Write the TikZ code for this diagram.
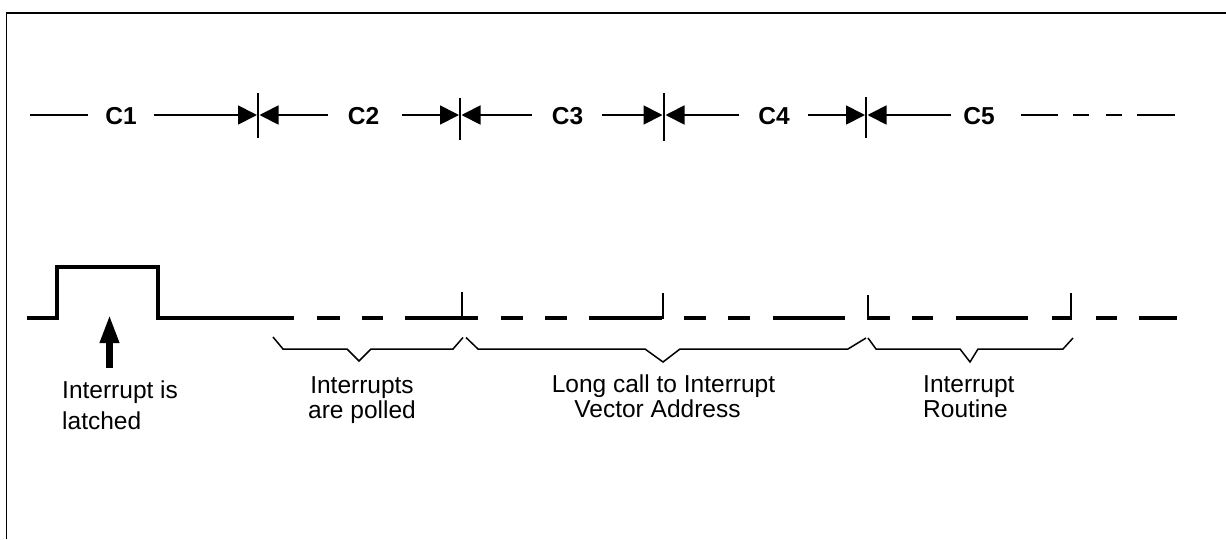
\documentclass[tikz,border=0pt]{standalone}
\usepackage{fontspec}
\setmainfont{Liberation Sans}
\usetikzlibrary{arrows.meta}
\begin{document}
\begin{tikzpicture}[x=1pt,y=-1pt,
  lbl/.style={font=\fontsize{24.5}{25}\selectfont\bfseries, inner sep=0pt, anchor=base},
  txt/.style={font=\fontsize{24.5}{25}\selectfont, inner sep=0pt, anchor=base west},
  txtc/.style={font=\fontsize{24.5}{25}\selectfont, inner sep=0pt, anchor=base},
  dimline/.style={line width=1.8pt},
  dimarr/.style={line width=1.8pt, -{Triangle[length=19pt,width=19pt]}},
  ticks/.style={line width=1.8pt},
  sig/.style={line width=4pt, line join=miter},
  sigtick/.style={line width=2pt},
  brace/.style={line width=1.5pt, line join=miter},
  frame/.style={line width=1.2pt},
  bigarrow/.style={line width=6.5pt, -{Triangle[length=28pt,width=18pt]}},
]
\useasboundingbox (0,0) rectangle (1226,539);
% frame
\draw[frame] (6.5,539) -- (6.5,13) -- (1226,13);

% ---------- top row: cycles ----------
\node[lbl] (C1) at (121,124) {C1};
\node[lbl] (C2) at (363.5,124) {C2};
\node[lbl] (C3) at (567.5,124) {C3};
\node[lbl] (C4) at (774,124) {C4};
\node[lbl] (C5) at (979,124) {C5};

\coordinate (t1) at (258,115); \coordinate (t1a) at (258,93);  \coordinate (t1b) at (258,138);
\coordinate (t2) at (460,115); \coordinate (t2a) at (460,98);  \coordinate (t2b) at (460,140);
\coordinate (t3) at (664,115); \coordinate (t3a) at (664,93);  \coordinate (t3b) at (664,141);
\coordinate (t4) at (866,115); \coordinate (t4a) at (866,97);  \coordinate (t4b) at (866,138);

\draw[ticks] (t1a) -- (t1b);
\draw[ticks] (t2a) -- (t2b);
\draw[ticks] (t3a) -- (t3b);
\draw[ticks] (t4a) -- (t4b);

\coordinate (s0) at (30,115);
\coordinate (s1) at (88,115);
\draw[dimline] (s0) -- (s1);
\draw[dimarr] ([xshift=17pt]C1.east |- t1) -- ([xshift=-1pt]t1);
\draw[dimarr] ([xshift=-20pt]C2.west |- t1) -- ([xshift=1.5pt]t1);
\draw[dimarr] ([xshift=23pt]C2.east |- t2) -- ([xshift=-1pt]t2);
\draw[dimarr] ([xshift=-20pt]C3.west |- t2) -- ([xshift=1.5pt]t2);
\draw[dimarr] ([xshift=19pt]C3.east |- t3) -- ([xshift=-1.5pt]t3);
\draw[dimarr] ([xshift=-19pt]C4.west |- t3) -- ([xshift=1.5pt]t3);
\draw[dimarr] ([xshift=18pt]C4.east |- t4) -- ([xshift=-1pt]t4);
\draw[dimarr] ([xshift=-12pt]C5.west |- t4) -- ([xshift=1.5pt]t4);

\coordinate (d1a) at (1021,115); \coordinate (d1b) at (1058,115);
\coordinate (d2a) at (1073,115); \coordinate (d2b) at (1089,115);
\coordinate (d3a) at (1106,115); \coordinate (d3b) at (1122,115);
\coordinate (d4a) at (1137,115); \coordinate (d4b) at (1175,115);
\draw[dimline] (d1a) -- (d1b);
\draw[dimline] (d2a) -- (d2b);
\draw[dimline] (d3a) -- (d3b);
\draw[dimline] (d4a) -- (d4b);

% ---------- signal ----------
\draw[sig] (27,318) -- (57,318) -- (57,267) -- (158,267) -- (158,318) -- (294,318);
\foreach \a/\b in {317/340, 362/383, 405/478, 501/523, 545/567, 589/662,
                   684/706, 728/750, 773/845, 867/890, 912/933, 956/1028,
                   1052/1072, 1096/1117, 1139/1177}
  \draw[sig] (\a,318) -- (\b,318);
\draw[sigtick] (462,318) -- (462,292);
\draw[sigtick] (663,319) -- (663,293);
\draw[sigtick] (868,319) -- (868,295);
\draw[sigtick] (1071,319) -- (1071,293);

% ---------- big arrow ----------
\coordinate (ab) at (109.5,368);
\coordinate (at) at (109.5,315);
\draw[bigarrow] (ab) -- (at);

% ---------- braces ----------
\draw[brace] (273,337) -- (283,349) -- (347,349) -- (359,361) -- (371,349) -- (453,349) -- (463,337.5);
\draw[brace] (466,337.5) -- (478,349) -- (645,349) -- (663,362) -- (680,349) -- (848,349) -- (866,338);
\draw[brace] (868,338) -- (876,349) -- (960,349) -- (970,362) -- (978,349) -- (1063,349) -- (1073,338);

% ---------- labels ----------
\node[txt] (L1a) at (62,398) {Interrupt is};
\node[txt] (L1b) at (62,429) {latched};
\node[txtc] (L2a) at (362,393) {Interrupts};
\node[txtc] (L2b) at (362,418) {are polled};
\node[txtc] (L3a) at (663.5,392) {Long call to Interrupt};
\node[txtc] (L3b) at (657.5,417) {Vector Address};
\node[txt] (L4a) at (923,392) {Interrupt};
\node[txt] (L4b) at (923,417) {Routine};
\end{tikzpicture}
\end{document}
